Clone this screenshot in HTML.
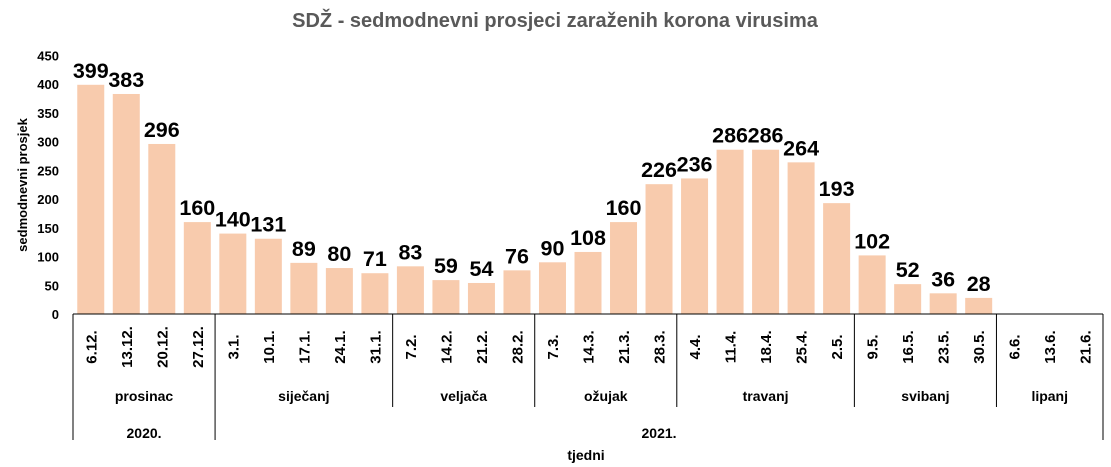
<!DOCTYPE html>
<html><head><meta charset="utf-8"><style>body{margin:0;background:#fff}svg{display:block}text{font-family:"Liberation Sans",sans-serif;font-weight:bold}</style></head><body>
<svg id="s" width="1111" height="467" xmlns="http://www.w3.org/2000/svg">
<text x="555" y="27" font-size="20" fill="#595959" text-anchor="middle">SDŽ - sedmodnevni prosjeci zaraženih korona virusima</text>
<text transform="translate(27,185) rotate(-90)" font-size="13" text-anchor="middle" fill="#000">sedmodnevni prosjek</text>
<g id="g"></g>
<text x="586" y="460" font-size="14" text-anchor="middle">tjedni</text>
</svg>
<script>
var g=document.getElementById('g'),h='';
var v=[399,383,296,160,140,131,89,80,71,83,59,54,76,90,108,160,226,236,286,286,264,193,102,52,36,28,null,null,null];
var l=['6.12.','13.12.','20.12.','27.12.','3.1.','10.1.','17.1.','24.1.','31.1.','7.2.','14.2.','21.2.','28.2.','7.3.','14.3.','21.3.','28.3.','4.4.','11.4.','18.4.','25.4.','2.5.','9.5.','16.5.','23.5.','30.5.','6.6.','13.6.','21.6.'];
var x0=73,w=1030/29,y0=314,k=258.5/450;
for(var t=0;t<=450;t+=50){h+='<text x="59" y="'+(y0-t*k+5)+'" font-size="13" text-anchor="end">'+t+'</text>';}
for(var i=0;i<29;i++){var c=x0+w*(i+.5);
if(v[i]!=null){var y=y0-v[i]*k;h+='<rect x="'+(c-13.5)+'" y="'+y+'" width="27" height="'+(y0-y)+'" fill="#F8CBAD"/>';
h+='<text x="'+c+'" y="'+(y-7)+'" font-size="21.5" text-anchor="middle">'+v[i]+'</text>';}
h+='<text transform="translate('+(c+5.5)+',347) rotate(-90)" font-size="15" text-anchor="middle">'+l[i]+'</text>';}
h+='<line x1="73" y1="'+y0+'" x2="1103" y2="'+y0+'" stroke="#000"/>';
var b=[[0,440],[4,440],[9,407],[13,407],[17,407],[22,407],[26,407],[29,440]];
b.forEach(function(p){var x=x0+w*p[0];h+='<line x1="'+x+'" y1="'+y0+'" x2="'+x+'" y2="'+p[1]+'" stroke="#000"/>';});
var m=[['prosinac',0,4],['siječanj',4,9],['veljača',9,13],['ožujak',13,17],['travanj',17,22],['svibanj',22,26],['lipanj',26,29]];
m.forEach(function(p){h+='<text x="'+(x0+w*(p[1]+p[2])/2)+'" y="401" font-size="14" text-anchor="middle">'+p[0]+'</text>';});
h+='<text x="'+(x0+w*2)+'" y="438" font-size="14" text-anchor="middle">2020.</text>';
h+='<text x="'+(x0+w*16.5)+'" y="438" font-size="14" text-anchor="middle">2021.</text>';
g.innerHTML=h;
</script>
</body></html>
